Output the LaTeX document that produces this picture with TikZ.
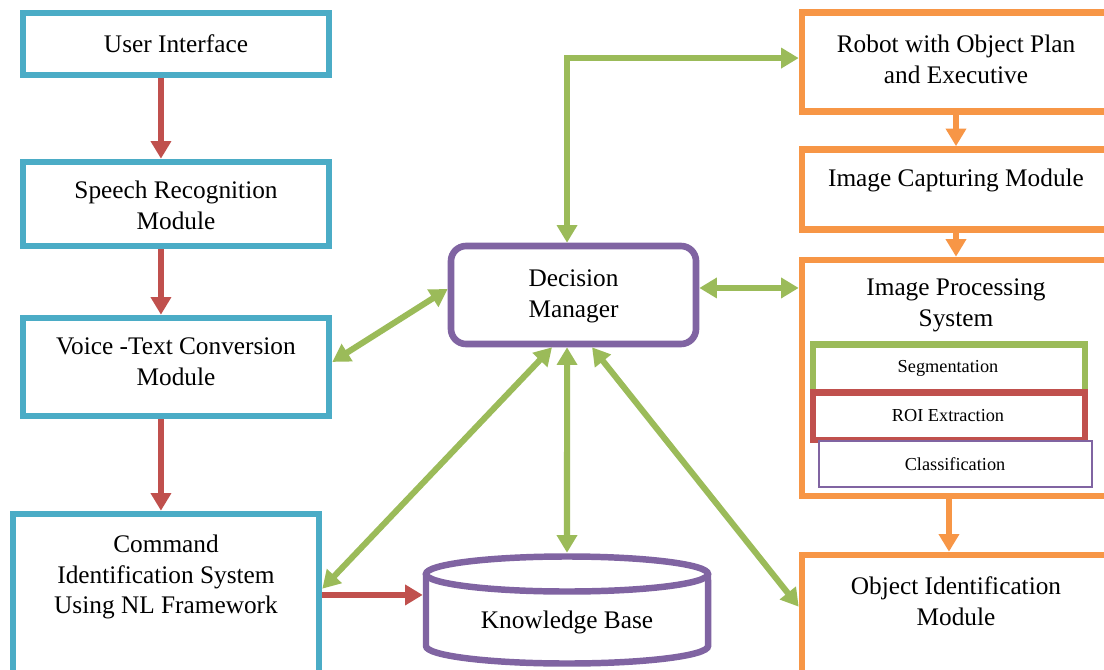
\documentclass[tikz,border=0pt]{standalone}
\usepackage{fontspec}
\setmainfont{Liberation Serif}
\usetikzlibrary{arrows.meta,fit,calc}
\definecolor{cblue}{HTML}{4BACC6}
\definecolor{cred}{HTML}{C0504D}
\definecolor{cgreen}{HTML}{9BBB59}
\definecolor{cpurple}{HTML}{8064A2}
\definecolor{corange}{HTML}{F79646}
\begin{document}
\begin{tikzpicture}[x=0.025cm,y=-0.025cm,
  box/.style={draw, line width=4.7pt, inner sep=0pt, fill=white},
  bluebox/.style={box, draw=cblue},
  orangebox/.style={box, draw=corange},
  txt/.style={align=center, inner sep=0pt, font=\fontsize{18}{22}\selectfont},
  small/.style={align=center, inner sep=0pt, font=\fontsize{13}{15}\selectfont},
  tip/.tip={Triangle[length=12.5pt,width=14pt]},
  garrow/.style={draw=cgreen, line width=4.3pt, line join=miter, arrows={tip-tip}},
  rarrow/.style={draw=cred, line width=4.3pt, arrows={-tip}},
  oarrow/.style={draw=corange, line width=4.3pt, arrows={-tip}}]
\useasboundingbox (0,0) rectangle (1104,670);
\fill[white] (0,0) rectangle (1104,670);
\clip (0,0) rectangle (1104,670);

% left column
\node[bluebox, fit={(23,13) (329,75)}] (ui) {};
\node[bluebox, fit={(23,162) (329,246)}] (sr) {};
\node[bluebox, fit={(23,318) (329,416)}] (vt) {};
\node[bluebox, fit={(13,514) (319,690)}] (cmd) {};
\node[txt] (uiT) at (176,44) {User Interface};
\node[txt] (srT) at (176,205) {Speech Recognition\\Module};
\node[txt] (vtT) at (176,362) {Voice -Text Conversion\\Module};
\node[txt] (cmdT) at (166,577) {Command\\Identification System\\Using NL Framework};

% decision manager
\node[draw=cpurple, line width=4.7pt, rounded corners=10.7pt, inner sep=0pt, fill=white,
      fit={(451,246) (696,344)}] (dm) {};
\node[txt] (dmT) at (573.5,296) {Decision\\Manager};

% knowledge base cylinder
\draw[cpurple, line width=4.6pt, fill=white] (426,574) -- (426,646)
  arc[start angle=180, end angle=360, x radius=3.525cm, y radius=0.4375cm] -- (708,574);
\draw[cpurple, line width=4.6pt, fill=white] (567,574) ellipse [x radius=3.525cm, y radius=0.4375cm];
\node[inner sep=0pt, fit={(423,553) (711,667)}] (kb) {};
\node[txt] (kbT) at (567,622) {Knowledge Base};

% right column
\node[orangebox, fit={(802,12.5) (1110,111.5)}] (robot) {};
\node[orangebox, fit={(802,149.5) (1110,229.5)}] (ic) {};
\node[orangebox, fit={(802,260) (1110,496)}] (ip) {};
\node[orangebox, fit={(802,555) (1110,700)}] (objid) {};
\node[txt] (robotT) at (956,59) {Robot with Object Plan\\and Executive};
\node[txt] (icT) at (956,180) {Image Capturing Module};
\node[txt] (ipT) at (956,305) {Image Processing\\System};
\node[txt] (objidT) at (956,601) {Object Identification\\Module};

% inner boxes
\node[box, draw=cgreen, fit={(813,344.5) (1085,392)}] (seg) {};
\node[box, draw=cred, fit={(813,392.5) (1085,440)}] (roi) {};
\node[draw=cpurple, line width=1.5pt, fill=white, inner sep=0pt, fit={(819,441) (1092,487)}] (cls) {};
\node[small] (segT) at (948,368) {Segmentation};
\node[small] (roiT) at (948,416) {ROI Extraction};
\node[small] (clsT) at (955,464) {Classification};

% red arrows
\draw[rarrow] ([xshift=-10.7pt]ui.south) -- ([xshift=-10.7pt]sr.north);
\draw[rarrow] ([xshift=-10.7pt]sr.south) -- ([xshift=-10.7pt]vt.north);
\draw[rarrow] ([xshift=-10.7pt]vt.south) -- ([xshift=-10.7pt]vt.south |- cmd.north);
\draw[rarrow] ([yshift=10.7pt]kb.west -| cmd.east) -- ([yshift=10.7pt]kb.west);

% orange arrows
\draw[oarrow] (robot.south) -- (ic.north);
\draw[oarrow] (ic.south) -- (ip.north);
\draw[oarrow] ([xshift=-5pt]ip.south) -- ([xshift=-5pt]objid.north);

% green arrows
\draw[garrow] ([xshift=-4.6pt]dm.north) |- ([yshift=2.8pt]robot.west);
\draw[garrow] ([yshift=5pt]dm.east) -- ([yshift=5pt]dm.east -| ip.west);
\draw[garrow] ([yshift=4.3pt]dm.west) -- ([yshift=3.6pt]vt.east);
\draw[garrow] ([xshift=-15.3pt]dm.south) -- ($(cmd.north east)+(0,78)$);
\draw[garrow] ([xshift=-4.6pt]dm.south) -- (kb.north);
\draw[garrow] ([xshift=13.2pt]dm.south) -- ($(objid.north west)+(0,55)$);
\end{tikzpicture}
\end{document}
